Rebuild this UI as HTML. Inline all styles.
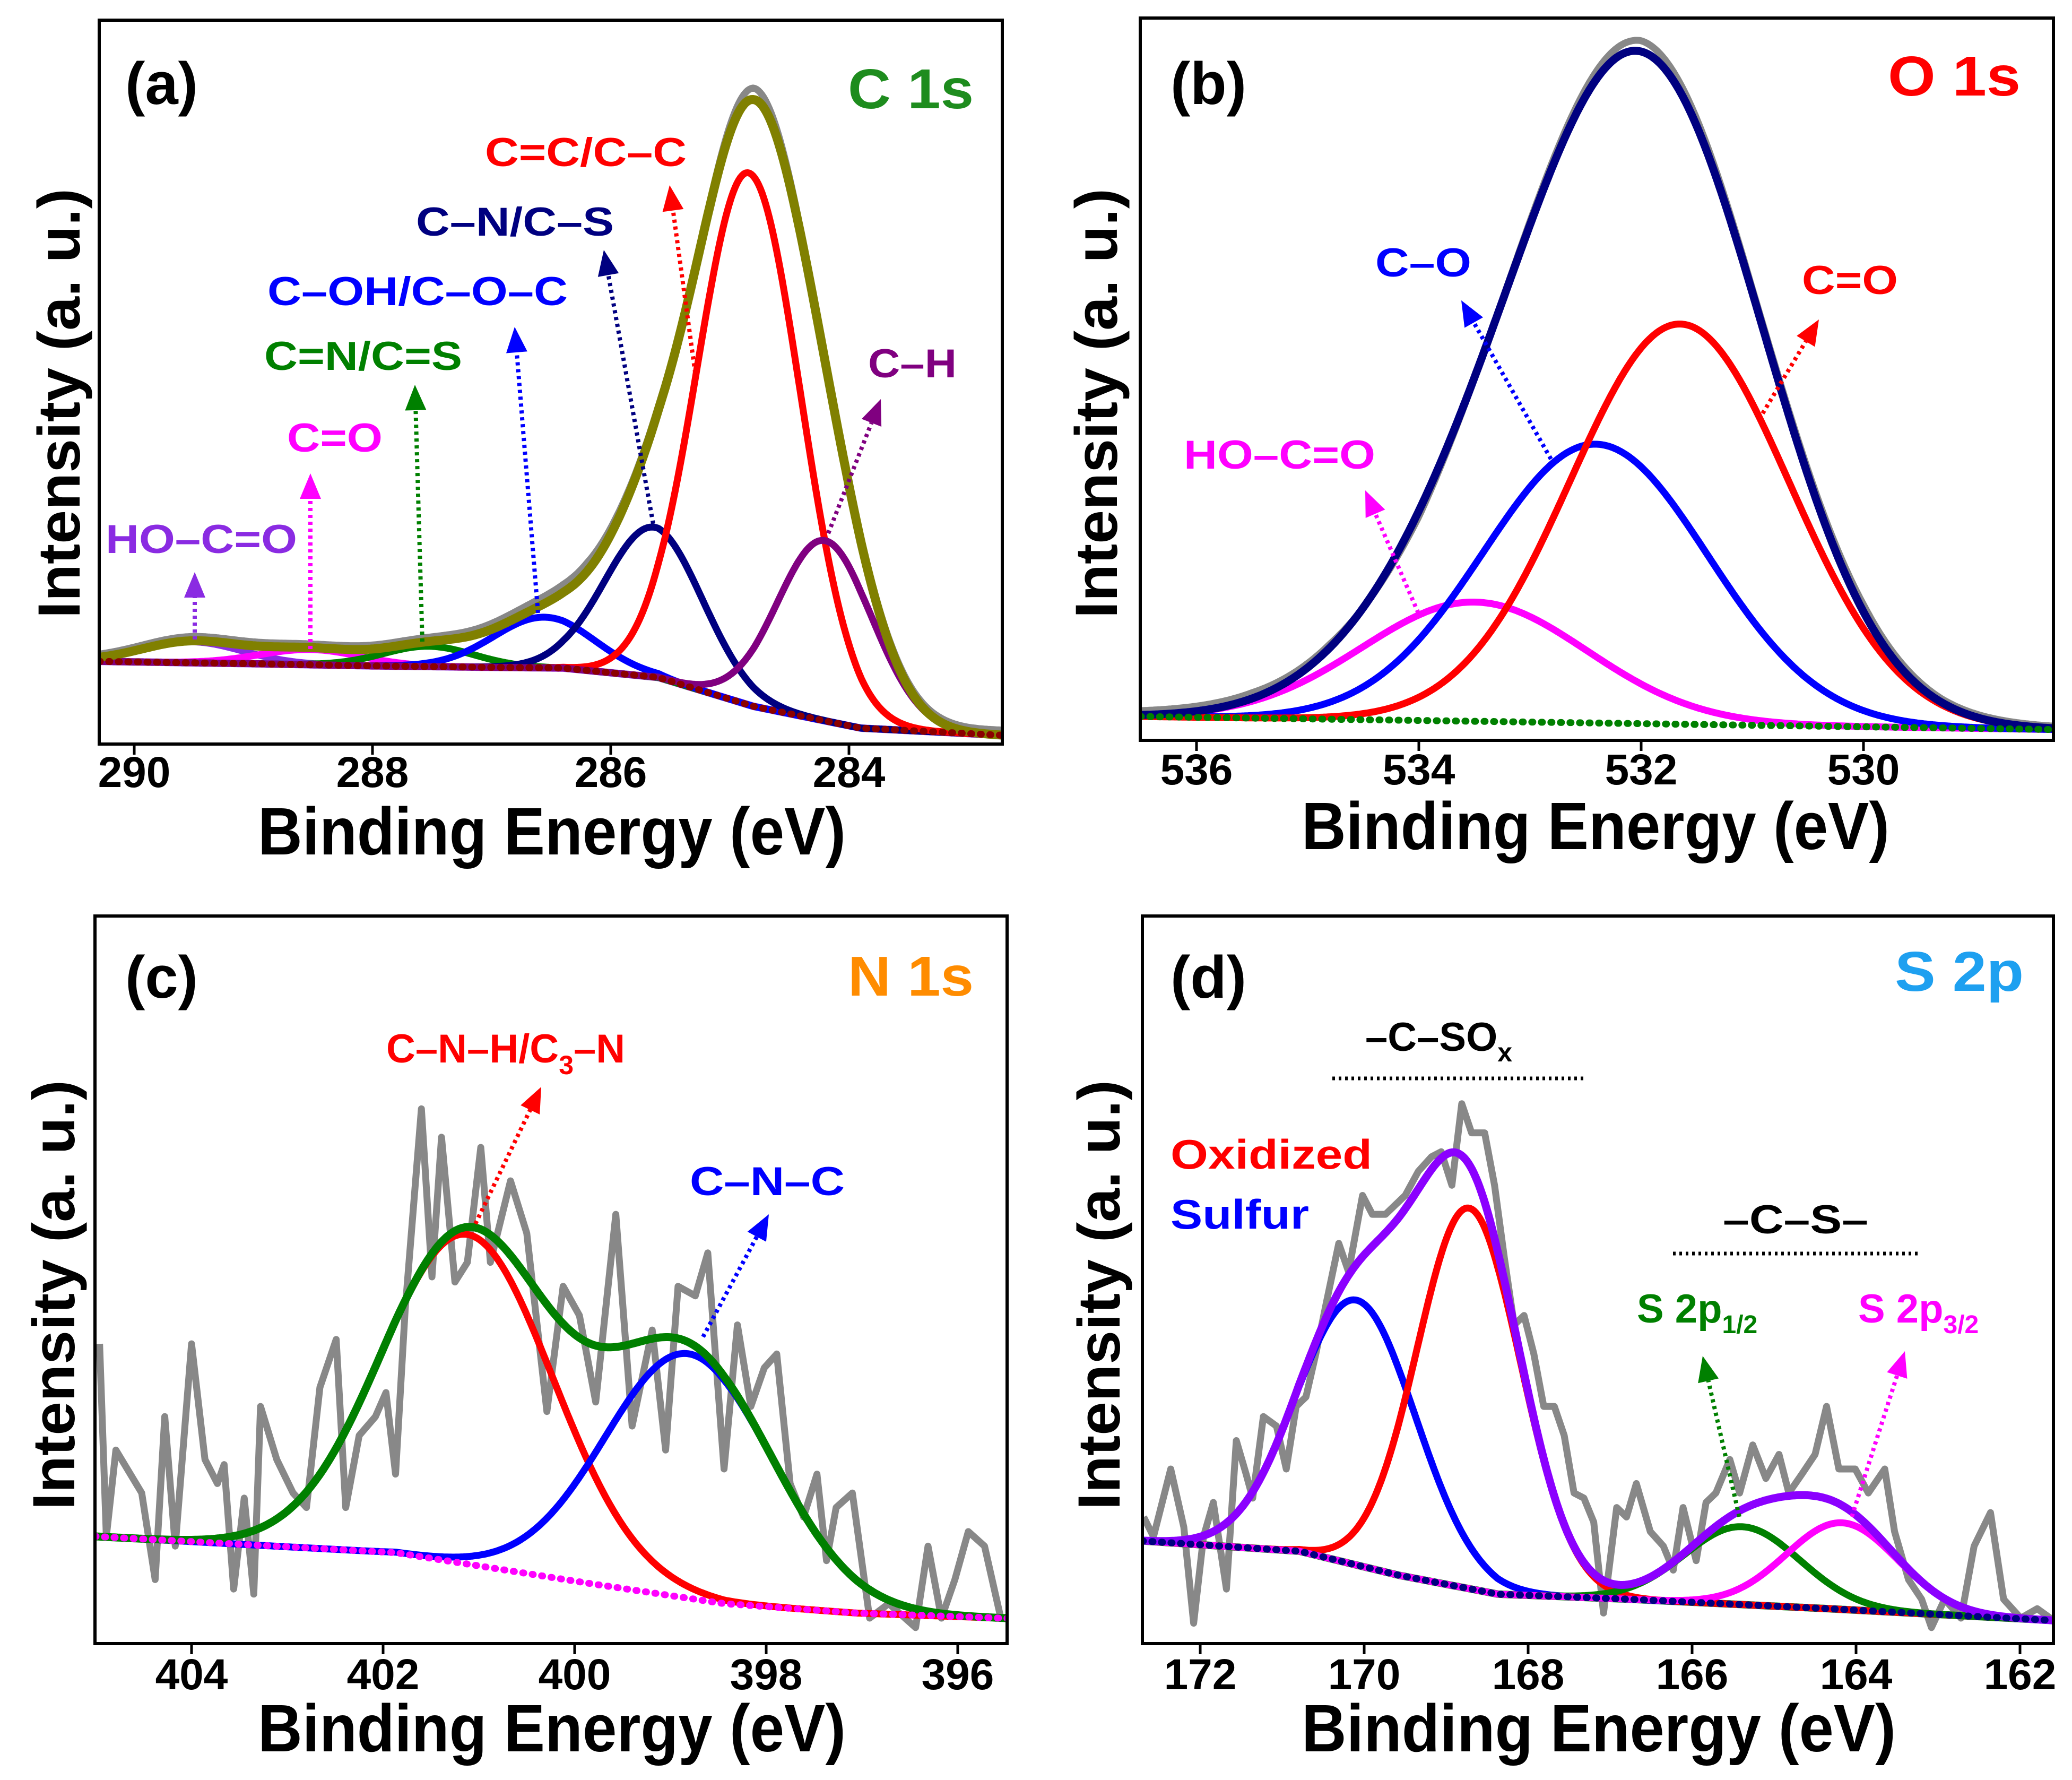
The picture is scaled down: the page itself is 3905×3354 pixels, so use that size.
<!DOCTYPE html>
<html><head><meta charset="utf-8"><title>XPS spectra</title>
<style>
html,body{margin:0;padding:0;background:#fff;}
svg{display:block;}
text{font-family:"Liberation Sans",Arial,sans-serif;font-weight:bold;}
</style></head>
<body>
<svg id="fig" xmlns="http://www.w3.org/2000/svg" width="3905" height="3354" viewBox="0 0 3905 3354">
<rect width="3905" height="3354" fill="#fff"/>
<defs>
<clipPath id="clipA"><rect x="187" y="38" width="1702" height="1364"/></clipPath>
<clipPath id="clipB"><rect x="2149" y="34" width="1721" height="1361"/></clipPath>
<clipPath id="clipC"><rect x="179" y="1726" width="1719" height="1371"/></clipPath>
<clipPath id="clipD"><rect x="2153" y="1726" width="1717" height="1371"/></clipPath>
</defs>
<g id="marks"></g>

<g>
<text x="236" y="196" font-size="112" textLength="137" lengthAdjust="spacingAndGlyphs">(a)</text>
<text x="1598" y="204" font-size="106" fill="#1e8c1e" textLength="237" lengthAdjust="spacingAndGlyphs">C 1s</text>
<text x="914" y="313" font-size="76" fill="#ff0000" textLength="380" lengthAdjust="spacingAndGlyphs">C=C/C–C</text>
<text x="784" y="444" font-size="76" fill="#000080" textLength="373" lengthAdjust="spacingAndGlyphs">C–N/C–S</text>
<text x="504" y="575" font-size="76" fill="#0000ff" textLength="566" lengthAdjust="spacingAndGlyphs">C–OH/C–O–C</text>
<text x="498" y="697" font-size="76" fill="#008000" textLength="373" lengthAdjust="spacingAndGlyphs">C=N/C=S</text>
<text x="541" y="851" font-size="76" fill="#ff00ff" textLength="180" lengthAdjust="spacingAndGlyphs">C=O</text>
<text x="199" y="1042" font-size="76" fill="#8a2be2" textLength="361" lengthAdjust="spacingAndGlyphs">HO–C=O</text>
<text x="1636" y="711" font-size="76" fill="#800080" textLength="167" lengthAdjust="spacingAndGlyphs">C–H</text>
<text transform="translate(150,760) rotate(-90)" text-anchor="middle" font-size="112" textLength="810" lengthAdjust="spacingAndGlyphs">Intensity (a. u.)</text>
<text x="1040" y="1610" text-anchor="middle" font-size="126" textLength="1108" lengthAdjust="spacingAndGlyphs">Binding Energy (eV)</text>
</g>

<g>
<text x="2206" y="196" font-size="112" textLength="143" lengthAdjust="spacingAndGlyphs">(b)</text>
<text x="3558" y="180" font-size="106" fill="#ff0000" textLength="250" lengthAdjust="spacingAndGlyphs">O 1s</text>
<text x="2592" y="521" font-size="76" fill="#0000ff" textLength="181" lengthAdjust="spacingAndGlyphs">C–O</text>
<text x="3396" y="554" font-size="76" fill="#ff0000" textLength="181" lengthAdjust="spacingAndGlyphs">C=O</text>
<text x="2231" y="883" font-size="76" fill="#ff00ff" textLength="361" lengthAdjust="spacingAndGlyphs">HO–C=O</text>
<text transform="translate(2105,760) rotate(-90)" text-anchor="middle" font-size="112" textLength="810" lengthAdjust="spacingAndGlyphs">Intensity (a. u.)</text>
<text x="3007" y="1600" text-anchor="middle" font-size="126" textLength="1108" lengthAdjust="spacingAndGlyphs">Binding Energy (eV)</text>
</g>

<g>
<text x="236" y="1880" font-size="112" textLength="137" lengthAdjust="spacingAndGlyphs">(c)</text>
<text x="1598" y="1876" font-size="106" fill="#ff8c00" textLength="237" lengthAdjust="spacingAndGlyphs">N 1s</text>
<text x="728" y="2002" font-size="76" fill="#ff0000">C–N–H/C<tspan font-size="50" dy="22">3</tspan><tspan dy="-22">–N</tspan></text>
<text x="1300" y="2252" font-size="76" fill="#0000ff" textLength="292" lengthAdjust="spacingAndGlyphs">C–N–C</text>
<text transform="translate(140,2440) rotate(-90)" text-anchor="middle" font-size="112" textLength="810" lengthAdjust="spacingAndGlyphs">Intensity (a. u.)</text>
<text x="1040" y="3300" text-anchor="middle" font-size="126" textLength="1108" lengthAdjust="spacingAndGlyphs">Binding Energy (eV)</text>
</g>

<g>
<text x="2206" y="1880" font-size="112" textLength="143" lengthAdjust="spacingAndGlyphs">(d)</text>
<text x="3571" y="1867" font-size="106" fill="#1ea0f0" textLength="243" lengthAdjust="spacingAndGlyphs">S 2p</text>
<text x="2573" y="1980" font-size="76" fill="#000">–C–SO<tspan font-size="50" dy="20">x</tspan></text>
<line x1="2511" y1="2032" x2="2985" y2="2032" stroke="#000" stroke-width="7" stroke-dasharray="5 7"/>
<text x="2206" y="2202" font-size="78" fill="#ff0000" textLength="380" lengthAdjust="spacingAndGlyphs">Oxidized</text>
<text x="2206" y="2315" font-size="78" fill="#0000ff" textLength="261" lengthAdjust="spacingAndGlyphs">Sulfur</text>
<text x="3247" y="2324" font-size="76" fill="#000" textLength="274" lengthAdjust="spacingAndGlyphs">–C–S–</text>
<line x1="3153" y1="2362" x2="3621" y2="2362" stroke="#000" stroke-width="7" stroke-dasharray="5 7"/>
<text x="3085" y="2492" font-size="76" fill="#008000">S 2p<tspan font-size="48" dy="20">1/2</tspan></text>
<text x="3502" y="2492" font-size="76" fill="#ff00ff">S 2p<tspan font-size="48" dy="20">3/2</tspan></text>
<text transform="translate(2110,2440) rotate(-90)" text-anchor="middle" font-size="112" textLength="810" lengthAdjust="spacingAndGlyphs">Intensity (a. u.)</text>
<text x="3013" y="3300" text-anchor="middle" font-size="126" textLength="1120" lengthAdjust="spacingAndGlyphs">Binding Energy (eV)</text>
</g>
</svg>

<script>
// ===== Panel A (C 1s) data =====
const bgA_E = [290.6, 289, 288, 287, 286.4, 285.6, 284.8, 283.9, 282.7];
const bgA_V = [11.5, 11.1, 10.8, 10.6, 10.5, 9.2, 5.2, 2.2, 1.2];
const peakA_names = ['hoco','co','cn-double','coh','cn-cs','cc','ch'];
const peakA_center = [289.52, 288.52, 287.53, 286.56, 285.64, 284.84, 284.2];
const peakA_height = [2.9, 2.1, 2.8, 7.0, 20.7, 73.5, 24.9];
const peakA_fwhm = [1.0, 1.0, 0.9, 1.0, 0.97, 1.02, 0.94];
const grayA_E = [290.6, 289.5, 288.5, 287.5, 286.8, 286.2, 285.8, 285.2, 284.8, 284.3, 283.6, 283.0, 282.7];
const grayA_dev = [0.4, 0.6, 0.5, 0.6, 0.9, 1.2, 0.6, 0.4, 1.6, 0.4, 0.6, 0.6, 0.7];
const ticksA = [290, 288, 286, 284];

// ===== Panel B (O 1s) data =====
const bgB_E = [536.5, 528.3];
const bgB_V = [3.3, 1.5];
const peakB_names = ['hoco','c-o','c-double-o'];
const peakB_center = [533.5, 532.41, 531.65];
const peakB_height = [16.5, 38.6, 55.4];
const peakB_fwhm = [2.38, 2.38, 2.32];
const grayB_E = [536.5, 535.5, 534.8, 534.0, 533.0, 532.0, 531.0, 530.0, 529.3, 528.3];
const grayB_dev = [0.6, 0.8, 0.5, -0.8, 0.5, 1.5, 0.5, 1.0, 0.5, 0.3];
const ticksB = [536, 534, 532, 530];

// ===== Panel C (N 1s) data =====
const bgC_E = [404.96, 401.87, 399.81, 398.44, 397.06, 395.55];
const bgC_V = [14.7, 12.5, 8.2, 5.5, 4.2, 3.5];
const peakC_names = ['cnh-c3n','cnc'];
const peakC_center = [401.12, 398.81];
const peakC_height = [45.3, 33.6];
const peakC_fwhm = [2.1, 2.06];
const rawC_E = [404.96,404.89,404.79,404.52,404.38,404.28,404.17,404.00,403.86,403.73,403.66,403.56,403.45,403.35,403.28,403.11,402.94,402.80,402.66,402.49,402.39,402.25,402.08,401.97,401.87,401.77,401.60,401.49,401.39,401.25,401.12,400.98,400.88,400.67,400.50,400.29,400.12,399.95,399.78,399.57,399.40,399.19,399.05,398.92,398.74,398.61,398.44,398.30,398.16,398.02,397.89,397.75,397.61,397.47,397.37,397.27,397.10,396.92,396.72,396.44,396.31,396.17,396.03,395.89,395.72,395.55];
const rawC_V = [41.2,14.7,26.6,20.7,8.8,31.2,13.4,41.2,25.3,22.0,24.6,7.5,20.0,6.8,32.6,25.3,20.7,18.7,35.2,41.8,18.7,28.6,31.2,34.5,23.3,45.8,73.5,50.4,69.6,49.7,52.4,68.2,52.4,63.6,56.4,31.9,49.1,45.1,33.2,59.0,29.9,43.1,26.6,49.1,47.8,53.7,24.0,43.8,32.6,37.9,39.8,22.0,17.4,23.3,11.4,18.7,20.7,3.5,5.5,2.2,13.4,3.5,8.8,15.4,13.4,3.5];
const ticksC = [404, 402, 400, 398, 396];

// ===== Panel D (S 2p) data =====
const bgD_E = [172.69, 170.79, 169.58, 168.37, 166.76, 164.34, 161.63];
const bgD_V = [14.1, 12.7, 9.4, 6.8, 6.1, 4.8, 3.2];
const peakD_names = ['sulfur-oxidized-1','sulfur-oxidized-2','s2p12','s2p32'];
const peakD_center = [170.09, 168.72, 165.39, 164.17];
const peakD_height = [36.4, 52.3, 10.7, 11.9];
const peakD_fwhm = [1.70, 1.49, 1.66, 1.6];
const rawD_E = [172.69,172.57,172.36,172.20,172.08,171.96,171.84,171.68,171.56,171.44,171.36,171.23,171.07,170.95,170.83,170.71,170.59,170.47,170.31,170.19,170.02,169.90,169.74,169.62,169.50,169.34,169.18,169.06,168.93,168.81,168.69,168.53,168.41,168.29,168.17,168.05,167.93,167.81,167.68,167.56,167.44,167.32,167.20,167.08,166.92,166.80,166.68,166.51,166.35,166.23,166.11,165.95,165.83,165.71,165.54,165.42,165.26,165.10,164.94,164.82,164.66,164.50,164.36,164.21,164.01,163.85,163.65,163.53,163.36,163.20,163.08,162.92,162.72,162.56,162.36,162.20,161.99,161.79,161.63];
const rawD_V = [17.4,14.7,24.0,16.0,2.8,14.7,19.4,7.5,27.9,23.3,20.0,31.2,29.9,24.0,32.6,33.9,39.8,46.4,55.0,51.1,61.6,59.0,59.0,60.3,61.6,64.9,66.9,67.6,63.0,74.2,70.2,70.2,63.0,53.0,43.8,45.1,39.8,32.6,32.6,28.6,20.7,20.0,16.7,4.2,18.7,17.4,22.0,15.4,13.4,10.1,18.7,11.4,19.4,20.7,25.3,20.7,27.3,22.7,26.0,20.7,23.3,26.0,32.6,24.0,24.0,20.7,24.0,15.4,8.8,6.1,2.2,6.1,3.5,13.4,18.0,6.1,3.5,4.8,3.5];
const ticksD = [172, 170, 168, 166, 164, 162];

const NS = 'http://www.w3.org/2000/svg';
const marks = document.getElementById('marks');
function mk(tag, attrs, parent){
  const el = document.createElementNS(NS, tag);
  for (const k in attrs) el.setAttribute(k, attrs[k]);
  (parent||marks).appendChild(el);
  return el;
}
function interp(Es, Vs, E){
  if (E >= Es[0]) { if (Es.length<2) return Vs[0]; const s=(Vs[1]-Vs[0])/(Es[1]-Es[0]); return Vs[0]+(E-Es[0])*s; }
  const n = Es.length-1;
  if (E <= Es[n]) { const s=(Vs[n]-Vs[n-1])/(Es[n]-Es[n-1]); return Vs[n]+(E-Es[n])*s; }
  for (let i=0;i<n;i++){
    if (E<=Es[i] && E>=Es[i+1]){ const t=(Es[i]-E)/(Es[i]-Es[i+1]); return Vs[i]+t*(Vs[i+1]-Vs[i]); }
  }
  return Vs[n];
}
function gauss(E, c, h, fw){ const s=fw/2.3548; return h*Math.exp(-((E-c)*(E-c))/(2*s*s)); }

function makePanel(cfg){
  const f = cfg.frame;
  const xOf = E => cfg.x0 + (cfg.e0 - E)*cfg.pxPerEv;
  const yOf = v => f.b - v*(f.b-f.t)/100;
  const Eleft = cfg.e0 - (f.l - cfg.x0)/cfg.pxPerEv;
  const Eright = cfg.e0 - (f.r - cfg.x0)/cfg.pxPerEv;
  const N = 500;
  const Es = [];
  for (let i=0;i<=N;i++) Es.push(Eleft + (Eright-Eleft)*i/N);
  const g = mk('g', {'clip-path':'url(#'+cfg.clip+')'});
  
  
  const bg = E => interp(cfg.bgE, cfg.bgV, E);
  const pathFrom = fn => Es.map((E,i)=>(i?'L':'M')+xOf(E).toFixed(1)+' '+yOf(fn(E)).toFixed(1)).join(' ');
  const envelope = E => { let s=bg(E); for(let k=0;k<cfg.pc.length;k++) s+=gauss(E,cfg.pc[k],cfg.ph[k],cfg.pw[k]); return s; };

  let rawD;
  if (cfg.rawE) {
    rawD = cfg.rawE.map((E,i)=>(i?'L':'M')+xOf(E).toFixed(1)+' '+yOf(cfg.rawV[i]).toFixed(1)).join(' ');
  } else {
    rawD = pathFrom(E => envelope(E) + interp(cfg.devE, cfg.devV, E));
  }
  const raw = mk('path', {d: rawD, fill:'none', stroke:'#888', 'stroke-width':13, 'stroke-linejoin':'round'}, g);
  
  

  if (cfg.bgUnder){
    const bu = mk('path', {d: pathFrom(bg), fill:'none', stroke:cfg.bgUnder, 'stroke-width':14}, g);
    
    
  }
  for (let k=0;k<cfg.pc.length;k++){
    const p = mk('path', {d: pathFrom(E => bg(E)+gauss(E,cfg.pc[k],cfg.ph[k],cfg.pw[k])), fill:'none', stroke:cfg.colors[k], 'stroke-width':13, 'stroke-linejoin':'round'}, g);
    
    
  }
  const env = mk('path', {d: pathFrom(envelope), fill:'none', stroke:cfg.envColor, 'stroke-width':cfg.envWidth||15, 'stroke-linejoin':'round'}, g);
  
  
  const bd = mk('path', {d: pathFrom(bg), fill:'none', stroke:cfg.bgColor, 'stroke-width':13, 'stroke-dasharray':'2 16', 'stroke-linecap':'round'}, g);
  
  

  const fr = mk('rect', {x:f.l, y:f.t, width:f.r-f.l, height:f.b-f.t, fill:'none', stroke:'#000', 'stroke-width':6});
  
  
  cfg.ticks.forEach(t=>{
    const x = xOf(t);
    const tl = mk('line', {x1:x, y1:f.b, x2:x, y2:f.b+20, stroke:'#000', 'stroke-width':5});
    
    
    const tx = mk('text', {x:x, y:cfg.tickY, 'text-anchor':'middle', 'font-size':82});
    tx.textContent = String(t);
    
    
  });
}

function arrow(x1,y1,x2,y2,color,name){
  const g = mk('g', {});
  
  
  const dx=x2-x1, dy=y2-y1, L=Math.hypot(dx,dy), ux=dx/L, uy=dy/L;
  const hl=48, hw=20;
  const bx=x2-ux*hl, by=y2-uy*hl;
  mk('line', {x1:x1,y1:y1,x2:bx,y2:by,stroke:color,'stroke-width':8,'stroke-dasharray':'6 7'}, g);
  mk('polygon', {points:`${x2},${y2} ${bx-uy*hw},${by+ux*hw} ${bx+uy*hw},${by-ux*hw}`, fill:color}, g);
}

makePanel({id:'panel-a', clip:'clipA', frame:{l:187,t:38,r:1889,b:1402}, x0:253, e0:290, pxPerEv:224.5,
  bgE:bgA_E, bgV:bgA_V, pc:peakA_center, ph:peakA_height, pw:peakA_fwhm, names:peakA_names,
  colors:['#8a2be2','#ff00ff','#008000','#0000ff','#000080','#ff0000','#800080'],
  envColor:'#808000', envWidth:17, bgColor:'#8b0000', bgUnder:'#8a2be2',
  devE:grayA_E, devV:grayA_dev, ticks:ticksA, tickY:1483});
makePanel({id:'panel-b', clip:'clipB', frame:{l:2149,t:34,r:3870,b:1395}, x0:2255, e0:536, pxPerEv:209.5,
  bgE:bgB_E, bgV:bgB_V, pc:peakB_center, ph:peakB_height, pw:peakB_fwhm, names:peakB_names,
  colors:['#ff00ff','#0000ff','#ff0000'],
  envColor:'#000080', envWidth:15, bgColor:'#008000',
  devE:grayB_E, devV:grayB_dev, ticks:ticksB, tickY:1478});
makePanel({id:'panel-c', clip:'clipC', frame:{l:179,t:1726,r:1898,b:3097}, x0:361, e0:404, pxPerEv:180.5,
  bgE:bgC_E, bgV:bgC_V, pc:peakC_center, ph:peakC_height, pw:peakC_fwhm, names:peakC_names,
  colors:['#ff0000','#0000ff'],
  envColor:'#008000', envWidth:15, bgColor:'#ff00ff',
  rawE:rawC_E, rawV:rawC_V, ticks:ticksC, tickY:3183});
makePanel({id:'panel-d', clip:'clipD', frame:{l:2153,t:1726,r:3870,b:3097}, x0:2262, e0:172, pxPerEv:154.5,
  bgE:bgD_E, bgV:bgD_V, pc:peakD_center, ph:peakD_height, pw:peakD_fwhm, names:peakD_names,
  colors:['#0000ff','#ff0000','#008000','#ff00ff'],
  envColor:'#8b00ff', envWidth:15, bgColor:'#000080', bgUnder:'#008000',
  rawE:rawD_E, rawV:rawD_V, ticks:ticksD, tickY:3183});

arrow(367,1205,367,1078,'#8a2be2','arrow-hoco-a');
arrow(585,1223,585,892,'#ff00ff','arrow-co-a');
arrow(796,1209,782,725,'#008000','arrow-cn-double');
arrow(1014,1155,970,616,'#0000ff','arrow-coh');
arrow(1231,987,1138,471,'#000080','arrow-cn-cs');
arrow(1312,716,1262,349,'#ff0000','arrow-cc');
arrow(1561,1005,1660,752,'#800080','arrow-ch');
arrow(2923,865,2754,566,'#0000ff','arrow-c-o');
arrow(3322,779,3428,602,'#ff0000','arrow-c-double-o');
arrow(2673,1155,2573,924,'#ff00ff','arrow-hoco-b');
arrow(896,2306,1020,2048,'#ff0000','arrow-cnh');
arrow(1325,2519,1449,2288,'#0000ff','arrow-cnc');
arrow(3278,2858,3209,2555,'#008000','arrow-s2p12');
arrow(3490,2858,3590,2546,'#ff00ff','arrow-s2p32');
</script>
</body></html>
